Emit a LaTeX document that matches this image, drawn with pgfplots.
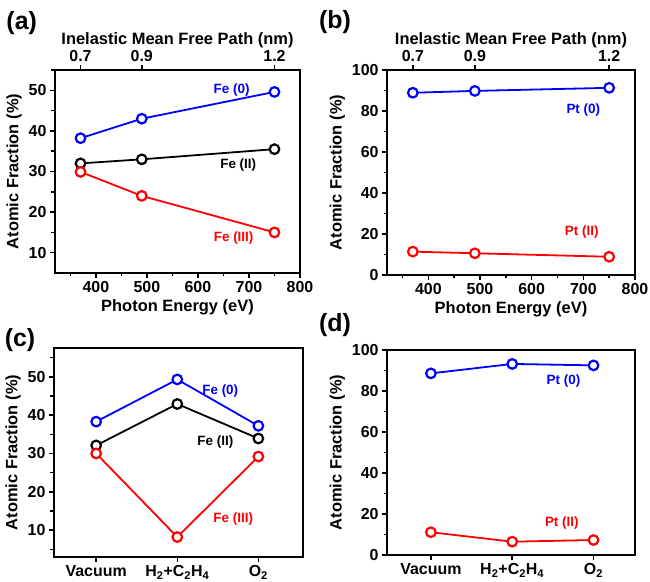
\documentclass[border=0pt]{standalone}
\usepackage{fontspec}
\setmainfont{Liberation Sans}
\usepackage{pgfplots}
\pgfplotsset{compat=1.18}

\definecolor{myblue}{RGB}{0,0,255}
\definecolor{myred}{RGB}{255,0,0}

\pgfplotsset{
  panel/.style={
    scale only axis, clip=false,
    axis line style={line width=1.8bp},
    tick style={line width=1.5bp, black},
    major tick length=5bp, minor tick length=3.5bp,
    tick align=outside, tick pos=left,
    /pgf/number format/assume math mode=true,
    tick label style={font=\bfseries\fontsize{16}{18}\selectfont},
    label style={font=\bfseries\fontsize{16.5}{19}\selectfont},
  },
  toplab/.style={xlabel style={yshift=-5bp}},
  ser/.style={#1, line width=1.8bp, mark=*, mark size=4.8bp,
    mark options={fill=white, line width=2.2bp, solid}},
}
\newcommand\lab[1]{{\bfseries\fontsize{13.5}{15}\selectfont #1}}
\newcommand\plab[1]{{\bfseries\fontsize{25}{28}\selectfont #1}}

\begin{document}
\begin{tikzpicture}
\useasboundingbox (0,0) rectangle (650bp,582bp);

% (a) Fe vs photon energy
\begin{axis}[panel, at={(55bp,309bp)}, anchor=south west, width=245bp, height=203bp,
  xmin=320, xmax=800, ymin=5, ymax=55,
  xtick={400,500,...,800}, minor xtick={350,450,...,750},
  ytick={10,20,...,50}, minor ytick={15,25,...,55},
  xlabel={Photon Energy (eV)}, ylabel={Atomic Fraction (\%)}]
\addplot[ser=myblue] coordinates {(370,38.2) (490,43.0) (750,49.6)};
\addplot[ser=black] coordinates {(370,32.0) (490,33.0) (750,35.5)};
\addplot[ser=myred] coordinates {(370,29.9) (490,24.0) (750,15.0)};
\node[text=myblue] at (axis cs:666,50) {\lab{Fe (0)}};
\node[text=black] at (axis cs:679,31.7) {\lab{Fe (II)}};
\node[text=myred] at (axis cs:670,13.5) {\lab{Fe (III)}};
\end{axis}
\begin{axis}[panel, toplab, at={(55bp,309bp)}, anchor=south west, width=245bp, height=203bp,
  xmin=320, xmax=800, ymin=0, ymax=1,
  axis x line*=top, axis y line=none, xtick pos=right,
  xtick={370,490,750}, xticklabels={0.7,0.9,1.2}, minor xtick={},
  xlabel={Inelastic Mean Free Path (nm)}]
\end{axis}

% (b) Pt vs photon energy
\begin{axis}[panel, at={(387bp,307bp)}, anchor=south west, width=248bp, height=205bp,
  xmin=320, xmax=800, ymin=0, ymax=100,
  xtick={400,500,...,800}, minor xtick={350,450,...,750},
  ytick={0,20,...,100}, minor ytick={10,30,...,90},
  xlabel={Photon Energy (eV)}, ylabel={Atomic Fraction (\%)}]
\addplot[ser=myblue] coordinates {(370,88.9) (490,89.8) (750,91.3)};
\addplot[ser=myred] coordinates {(370,11.4) (490,10.6) (750,8.9)};
\node[text=myblue] at (axis cs:700,80.5) {\lab{Pt (0)}};
\node[text=myred] at (axis cs:697,20.8) {\lab{Pt (II)}};
\end{axis}
\begin{axis}[panel, toplab, at={(387bp,307bp)}, anchor=south west, width=248bp, height=205bp,
  xmin=320, xmax=800, ymin=0, ymax=1,
  axis x line*=top, axis y line=none, xtick pos=right,
  xtick={370,490,750}, xticklabels={0.7,0.9,1.2}, minor xtick={},
  xlabel={Inelastic Mean Free Path (nm)}]
\end{axis}

% (c) Fe vs gas environment
\begin{axis}[panel, at={(54bp,25bp)}, anchor=south west, width=249bp, height=209bp,
  xmin=-0.52, xmax=2.55, ymin=3, ymax=57.5,
  xtick={0,1,2},
  xticklabels={Vacuum, H\textsubscript{2}+C\textsubscript{2}H\textsubscript{4}, O\textsubscript{2}},
  ytick={10,20,...,50}, minor ytick={5,15,...,55},
  ylabel={Atomic Fraction (\%)}]
\addplot[ser=myblue] coordinates {(0,38.3) (1,49.3) (2,37.2)};
\addplot[ser=black] coordinates {(0,32.1) (1,42.9) (2,33.9)};
\addplot[ser=myred] coordinates {(0,30.0) (1,8.2) (2,29.2)};
\node[text=myblue] at (axis cs:1.53,46.3) {\lab{Fe (0)}};
\node[text=black] at (axis cs:1.47,33.1) {\lab{Fe (II)}};
\node[text=myred] at (axis cs:1.69,13) {\lab{Fe (III)}};
\end{axis}

% (d) Pt vs gas environment
\begin{axis}[panel, at={(387bp,27bp)}, anchor=south west, width=248bp, height=205bp,
  xmin=-0.54, xmax=2.51, ymin=0, ymax=100,
  xtick={0,1,2},
  xticklabels={Vacuum, H\textsubscript{2}+C\textsubscript{2}H\textsubscript{4}, O\textsubscript{2}},
  ytick={0,20,...,100}, minor ytick={10,30,...,90},
  ylabel={Atomic Fraction (\%)}]
\addplot[ser=myblue] coordinates {(0,88.6) (1,93.2) (2,92.5)};
\addplot[ser=myred] coordinates {(0,11.1) (1,6.5) (2,7.3)};
\node[text=myblue] at (axis cs:1.63,85) {\lab{Pt (0)}};
\node[text=myred] at (axis cs:1.61,15.5) {\lab{Pt (II)}};
\end{axis}

\node at (21.7bp,558.7bp) {\plab{(a)}};
\node at (335bp,560bp) {\plab{(b)}};
\node at (20bp,242bp) {\plab{(c)}};
\node at (335bp,257bp) {\plab{(d)}};
\end{tikzpicture}
\end{document}
